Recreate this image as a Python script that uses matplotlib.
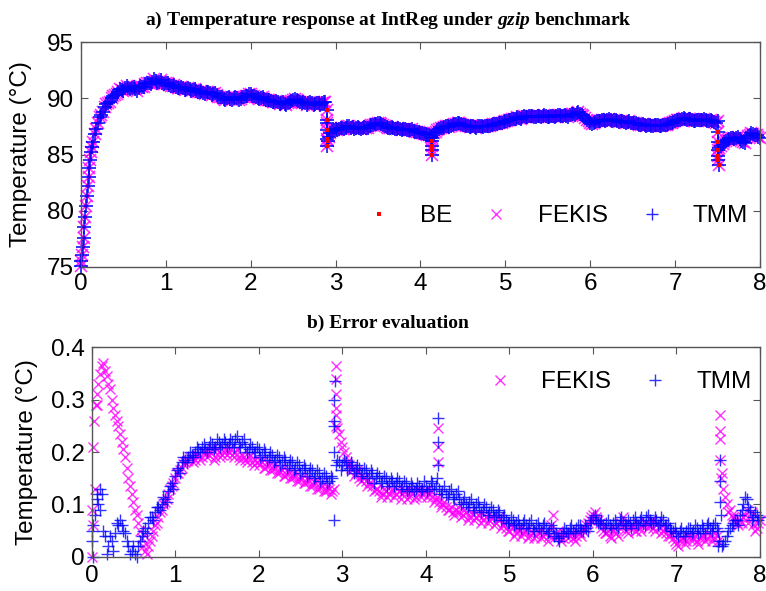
import matplotlib
matplotlib.use('Agg')
import matplotlib.pyplot as plt
import numpy as np

# datos ---------------------------
# malla de tiempo (paso 0.04) y malla intermedia (desplazada 0.02)
t = np.arange(201) * 0.04
t_mid = np.arange(200) * 0.04 + 0.02

# a) temperatura en IntReg (BE, FEKIS y TMM se solapan a esta escala)
temp = [
    75.1, 78.5, 82.2, 85.2, 86.8, 87.8, 88.5, 89.2, 89.6, 90.0,
    90.3, 90.6, 90.75, 90.9, 90.95, 90.9, 90.85, 90.9, 91.05, 91.25,
    91.4, 91.5, 91.55, 91.5, 91.4, 91.35, 91.2, 91.1, 91.0, 90.95,
    90.9, 90.85, 90.8, 90.75, 90.7, 90.6, 90.5, 90.55, 90.45, 90.35,
    90.3, 90.1, 89.95, 90.0, 89.95, 90.0, 90.05, 89.95, 90.1, 90.25,
    90.35, 90.2, 90.05, 90.0, 89.95, 89.85, 89.75, 89.7, 89.65, 89.55,
    89.5, 89.55, 89.75, 89.95, 89.8, 89.6, 89.55, 89.55, 89.6, 89.5,
    89.55, 89.6, 89.7, 86.6, 87.1, 87.25, 87.3, 87.35, 87.4, 87.5,
    87.45, 87.35, 87.4, 87.35, 87.35, 87.5, 87.65, 87.75, 87.8, 87.6,
    87.45, 87.35, 87.35, 87.3, 87.25, 87.25, 87.2, 87.2, 87.1, 87.0,
    86.9, 86.85, 86.7, 86.6, 86.9, 87.2, 87.35, 87.45, 87.5, 87.55,
    87.7, 87.8, 87.75, 87.6, 87.5, 87.5, 87.45, 87.5, 87.5, 87.5,
    87.55, 87.6, 87.7, 87.8, 87.85, 87.95, 88.05, 88.15, 88.2, 88.25,
    88.3, 88.35, 88.4, 88.4, 88.35, 88.4, 88.45, 88.4, 88.35, 88.4,
    88.45, 88.5, 88.45, 88.4, 88.5, 88.6, 88.7, 88.65, 88.4, 88.1,
    87.85, 87.8, 87.95, 88.0, 88.05, 88.1, 88.1, 88.05, 88.0, 87.95,
    87.9, 87.9, 87.85, 87.8, 87.7, 87.65, 87.6, 87.6, 87.55, 87.6,
    87.6, 87.55, 87.6, 87.7, 87.85, 87.95, 88.05, 88.15, 88.2, 88.15,
    88.05, 88.0, 88.1, 88.1, 88.05, 88.0, 87.95, 87.85, 85.6, 85.9,
    86.2, 86.35, 86.45, 86.5, 86.4, 86.15, 86.5, 86.75, 86.85, 86.7,
    86.5]

temp_mid = [
    76.8, 80.4, 83.8, 86.1, 87.3, 88.3, 88.8, 89.5, 89.7, 90.2,
    90.4, 90.8, 90.7, 91.1, 90.8, 91.0, 90.7, 91.1, 91.0, 91.4,
    91.3, 91.7, 91.4, 91.6, 91.3, 91.4, 91.1, 91.2, 90.9, 91.0,
    90.75, 90.9, 90.7, 90.85, 90.55, 90.7, 90.4, 90.6, 90.3, 90.45,
    90.15, 90.1, 89.85, 90.1, 89.85, 90.1, 89.9, 90.1, 90.2, 90.4,
    90.25, 90.15, 89.95, 90.1, 89.85, 89.9, 89.65, 89.8, 89.5, 89.65,
    89.45, 89.65, 89.85, 89.9, 89.7, 89.7, 89.45, 89.65, 89.45, 89.6,
    89.45, 89.7, 87.8, 86.9, 87.2, 87.2, 87.4, 87.3, 87.5, 87.4,
    87.3, 87.45, 87.3, 87.45, 87.4, 87.6, 87.7, 87.85, 87.7, 87.5,
    87.4, 87.45, 87.3, 87.35, 87.2, 87.3, 87.15, 87.25, 87.0, 87.05,
    86.95, 86.8, 86.75, 86.5, 87.05, 87.3, 87.4, 87.55, 87.45, 87.65,
    87.75, 87.85, 87.65, 87.55, 87.45, 87.55, 87.4, 87.55, 87.45, 87.55,
    87.5, 87.7, 87.75, 87.85, 87.9, 88.0, 88.1, 88.2, 88.3, 88.2,
    88.4, 88.3, 88.45, 88.35, 88.45, 88.35, 88.5, 88.3, 88.45, 88.35,
    88.55, 88.4, 88.5, 88.35, 88.6, 88.55, 88.75, 88.55, 88.25, 87.95,
    87.75, 87.9, 88.0, 88.1, 88.0, 88.15, 88.0, 88.1, 87.9, 88.0,
    87.85, 87.95, 87.8, 87.85, 87.65, 87.7, 87.55, 87.65, 87.5, 87.65,
    87.5, 87.65, 87.65, 87.8, 87.9, 88.05, 88.1, 88.25, 88.1, 88.2,
    87.95, 88.1, 88.05, 88.15, 87.95, 88.05, 87.9, 87.95, 85.8, 86.1,
    86.3, 86.5, 86.35, 86.55, 86.2, 86.0, 86.65, 86.9, 86.75, 86.55]

# muestras extra en los transitorios rapidos
fine_t = [0.0, 0.01, 0.03, 0.05, 0.07, 0.09, 0.11, 0.13,
          2.90, 2.90, 2.90, 2.90, 2.90, 2.91,
          4.14, 4.14, 4.14, 4.14,
          7.51, 7.51, 7.51, 7.51, 7.51, 7.52]
fine_temp = [75.5, 76.0, 77.6, 79.4, 81.3, 83.0, 84.5, 85.7,
             89.0, 88.1, 87.2, 86.4, 85.8, 86.2,
             86.2, 85.8, 85.4, 85.0,
             87.0, 86.1, 85.4, 84.9, 84.5, 84.1]

# b) error absoluto respecto a BE
fekis_err = [
    0.0, 0.13, 0.33, 0.365, 0.355, 0.33, 0.30, 0.27, 0.25, 0.22,
    0.19, 0.15, 0.12, 0.09, 0.065, 0.035, 0.01, 0.02, 0.04, 0.06,
    0.075, 0.09, 0.105, 0.12, 0.135, 0.15, 0.16, 0.17, 0.18, 0.185,
    0.19, 0.185, 0.195, 0.19, 0.2, 0.195, 0.205, 0.19, 0.2, 0.195,
    0.205, 0.2, 0.195, 0.2, 0.19, 0.195, 0.185, 0.19, 0.18, 0.185,
    0.175, 0.18, 0.17, 0.175, 0.165, 0.17, 0.16, 0.165, 0.155, 0.16,
    0.15, 0.155, 0.145, 0.15, 0.14, 0.145, 0.135, 0.14, 0.13, 0.135,
    0.125, 0.13, 0.125, 0.25, 0.235, 0.21, 0.19, 0.175, 0.165, 0.16,
    0.15, 0.155, 0.145, 0.14, 0.135, 0.13, 0.125, 0.12, 0.125, 0.12,
    0.13, 0.12, 0.125, 0.12, 0.125, 0.115, 0.12, 0.115, 0.125, 0.12,
    0.125, 0.12, 0.115, 0.11, 0.105, 0.1, 0.095, 0.09, 0.085, 0.09,
    0.085, 0.08, 0.085, 0.075, 0.08, 0.075, 0.08, 0.07, 0.075, 0.07,
    0.075, 0.065, 0.07, 0.06, 0.055, 0.05, 0.055, 0.045, 0.05, 0.045,
    0.05, 0.04, 0.045, 0.04, 0.045, 0.04, 0.045, 0.04, 0.08, 0.045,
    0.04, 0.035, 0.045, 0.04, 0.035, 0.04, 0.045, 0.05, 0.06, 0.07,
    0.08, 0.075, 0.065, 0.05, 0.045, 0.04, 0.05, 0.045, 0.055, 0.075,
    0.05, 0.055, 0.06, 0.05, 0.055, 0.06, 0.065, 0.06, 0.055, 0.06,
    0.055, 0.05, 0.045, 0.04, 0.035, 0.025, 0.03, 0.035, 0.03, 0.04,
    0.035, 0.03, 0.035, 0.04, 0.035, 0.04, 0.035, 0.04, 0.185, 0.13,
    0.1, 0.09, 0.075, 0.065, 0.07, 0.075, 0.09, 0.075, 0.06, 0.055,
    0.07]

fekis_mid = [
    0.06, 0.29, 0.35, 0.37, 0.345, 0.32, 0.285, 0.26, 0.235, 0.205,
    0.17, 0.135, 0.105, 0.08, 0.05, 0.02, 0.005, 0.03, 0.05, 0.065,
    0.085, 0.1, 0.11, 0.13, 0.14, 0.16, 0.165, 0.178, 0.182, 0.19,
    0.18, 0.195, 0.185, 0.2, 0.19, 0.2, 0.185, 0.205, 0.19, 0.2,
    0.195, 0.205, 0.19, 0.205, 0.185, 0.19, 0.18, 0.195, 0.175, 0.18,
    0.185, 0.17, 0.18, 0.165, 0.175, 0.16, 0.17, 0.155, 0.165, 0.15,
    0.16, 0.145, 0.155, 0.14, 0.15, 0.135, 0.145, 0.13, 0.14, 0.125,
    0.135, 0.12, 0.13, 0.245, 0.22, 0.2, 0.18, 0.17, 0.155, 0.165,
    0.145, 0.15, 0.135, 0.14, 0.125, 0.13, 0.115, 0.13, 0.115, 0.125,
    0.115, 0.13, 0.11, 0.125, 0.11, 0.125, 0.11, 0.13, 0.115, 0.125,
    0.115, 0.125, 0.105, 0.115, 0.095, 0.105, 0.09, 0.095, 0.08, 0.095,
    0.075, 0.09, 0.07, 0.085, 0.07, 0.08, 0.065, 0.08, 0.065, 0.075,
    0.06, 0.075, 0.055, 0.065, 0.05, 0.06, 0.04, 0.055, 0.04, 0.05,
    0.035, 0.05, 0.035, 0.05, 0.035, 0.045, 0.03, 0.06, 0.035, 0.05,
    0.03, 0.045, 0.035, 0.045, 0.03, 0.05, 0.04, 0.055, 0.065, 0.075,
    0.085, 0.07, 0.055, 0.045, 0.05, 0.035, 0.055, 0.04, 0.065, 0.06,
    0.045, 0.06, 0.05, 0.065, 0.05, 0.065, 0.055, 0.07, 0.05, 0.065,
    0.045, 0.055, 0.04, 0.045, 0.03, 0.02, 0.035, 0.025, 0.04, 0.03,
    0.04, 0.025, 0.04, 0.03, 0.045, 0.03, 0.045, 0.03, 0.16, 0.115,
    0.085, 0.08, 0.07, 0.06, 0.065, 0.08, 0.065, 0.085, 0.05, 0.065]

tmm_err = [
    0.05, 0.08, 0.1, 0.12, 0.04, 0.02, 0.03, 0.045, 0.06, 0.06,
    0.045, 0.02, 0.01, 0.005, 0.02, 0.04, 0.055, 0.065, 0.075, 0.085,
    0.095, 0.1, 0.11, 0.125, 0.14, 0.155, 0.17, 0.18, 0.185, 0.19,
    0.195, 0.2, 0.205, 0.21, 0.205, 0.21, 0.215, 0.21, 0.22, 0.215,
    0.22, 0.215, 0.22, 0.225, 0.215, 0.22, 0.21, 0.205, 0.21, 0.2,
    0.205, 0.195, 0.2, 0.19, 0.195, 0.185, 0.19, 0.18, 0.185, 0.175,
    0.18, 0.17, 0.175, 0.165, 0.17, 0.16, 0.165, 0.155, 0.16, 0.15,
    0.155, 0.145, 0.15, 0.175, 0.18, 0.175, 0.18, 0.17, 0.175, 0.165,
    0.17, 0.16, 0.165, 0.155, 0.16, 0.15, 0.155, 0.145, 0.15, 0.14,
    0.145, 0.14, 0.145, 0.135, 0.14, 0.13, 0.135, 0.13, 0.135, 0.13,
    0.135, 0.13, 0.14, 0.135, 0.13, 0.125, 0.12, 0.125, 0.115, 0.12,
    0.11, 0.105, 0.1, 0.105, 0.095, 0.1, 0.095, 0.09, 0.095, 0.085,
    0.09, 0.08, 0.085, 0.075, 0.07, 0.065, 0.07, 0.065, 0.06, 0.065,
    0.06, 0.065, 0.055, 0.06, 0.055, 0.06, 0.055, 0.05, 0.055, 0.045,
    0.03, 0.045, 0.05, 0.055, 0.05, 0.055, 0.06, 0.05, 0.055, 0.065,
    0.075, 0.07, 0.065, 0.06, 0.065, 0.06, 0.065, 0.06, 0.07, 0.065,
    0.06, 0.065, 0.07, 0.065, 0.07, 0.065, 0.075, 0.07, 0.065, 0.07,
    0.065, 0.07, 0.06, 0.055, 0.05, 0.045, 0.05, 0.045, 0.05, 0.055,
    0.05, 0.055, 0.05, 0.055, 0.06, 0.055, 0.06, 0.055, 0.105, 0.025,
    0.04, 0.055, 0.065, 0.07, 0.08, 0.1, 0.11, 0.09, 0.075, 0.08,
    0.075]

tmm_mid = [
    0.0, 0.12, 0.09, 0.05, 0.005, 0.04, 0.01, 0.065, 0.07, 0.05,
    0.03, 0.005, 0.02, 0.0, 0.03, 0.05, 0.045, 0.075, 0.07, 0.095,
    0.09, 0.115, 0.105, 0.135, 0.13, 0.165, 0.16, 0.19, 0.18, 0.2,
    0.19, 0.21, 0.2, 0.215, 0.2, 0.22, 0.205, 0.225, 0.21, 0.225,
    0.21, 0.225, 0.21, 0.23, 0.21, 0.225, 0.2, 0.215, 0.2, 0.21,
    0.19, 0.205, 0.185, 0.2, 0.18, 0.195, 0.175, 0.19, 0.17, 0.185,
    0.165, 0.18, 0.16, 0.175, 0.155, 0.17, 0.15, 0.165, 0.145, 0.16,
    0.14, 0.155, 0.25, 0.185, 0.165, 0.185, 0.165, 0.18, 0.16, 0.175,
    0.155, 0.17, 0.15, 0.165, 0.14, 0.16, 0.14, 0.155, 0.135, 0.15,
    0.135, 0.15, 0.13, 0.145, 0.125, 0.14, 0.125, 0.14, 0.125, 0.145,
    0.125, 0.145, 0.13, 0.15, 0.12, 0.135, 0.115, 0.13, 0.11, 0.125,
    0.1, 0.115, 0.095, 0.11, 0.09, 0.105, 0.085, 0.1, 0.08, 0.095,
    0.075, 0.09, 0.07, 0.08, 0.065, 0.075, 0.06, 0.07, 0.055, 0.07,
    0.055, 0.07, 0.05, 0.065, 0.05, 0.065, 0.045, 0.06, 0.04, 0.035,
    0.04, 0.055, 0.045, 0.06, 0.045, 0.06, 0.05, 0.06, 0.05, 0.07,
    0.08, 0.065, 0.07, 0.055, 0.07, 0.055, 0.07, 0.055, 0.075, 0.06,
    0.07, 0.055, 0.075, 0.06, 0.075, 0.06, 0.08, 0.065, 0.075, 0.06,
    0.075, 0.06, 0.065, 0.05, 0.055, 0.04, 0.055, 0.04, 0.055, 0.045,
    0.06, 0.045, 0.06, 0.045, 0.065, 0.05, 0.065, 0.05, 0.02, 0.03,
    0.05, 0.06, 0.07, 0.06, 0.09, 0.115, 0.095, 0.07, 0.085, 0.07]

# picos de error en los transitorios
fekis_t_extra = [0.01, 0.02, 0.03, 0.05, 0.06, 2.92, 2.92, 2.92, 2.92, 2.93,
                 4.15, 4.15, 4.15, 7.52, 7.52, 7.52, 7.53]
fekis_extra = [0.09, 0.21, 0.26, 0.29, 0.31, 0.365, 0.34, 0.31, 0.285, 0.27,
               0.245, 0.21, 0.18, 0.27, 0.24, 0.225, 0.15]
tmm_t_extra = [0.01, 0.02, 0.06, 0.10, 2.90, 2.90, 2.90, 2.90, 2.91,
               4.15, 4.15, 4.15, 7.50, 7.51, 7.52, 7.52, 7.53]
tmm_extra = [0.03, 0.06, 0.11, 0.13, 0.07, 0.2, 0.26, 0.3, 0.335,
             0.265, 0.22, 0.175, 0.02, 0.03, 0.185, 0.145, 0.08]

x_ticks = [0, 1, 2, 3, 4, 5, 6, 7, 8]
y1_ticks = [75, 80, 85, 90, 95]
y2_ticks = [0, 0.1, 0.2, 0.3, 0.4]
y2_labels = ['0', '0.1', '0.2', '0.3', '0.4']

# figura -------
plt.rcParams['font.family'] = 'Liberation Sans'
plt.rcParams['mathtext.fontset'] = 'custom'
plt.rcParams['mathtext.it'] = 'Liberation Serif:italic:bold'

fig = plt.figure(figsize=(7.66, 5.91), dpi=100)
ax1 = fig.add_axes([0.1057, 0.5487, 0.8864, 0.3797])
ax2 = fig.add_axes([0.1195, 0.0580, 0.8727, 0.3543])

t_all = np.concatenate([t, t_mid, fine_t])
temp_all = np.concatenate([temp, temp_mid, fine_temp])

be_kw = dict(linestyle='none', marker='s', color='red', ms=2.2, mew=0, clip_on=False)
fekis_kw = dict(linestyle='none', marker='x', color='magenta', ms=7, mew=1.0,
                alpha=0.8, clip_on=False)
tmm_kw = dict(linestyle='none', marker='+', color='blue', ms=9, mew=1.0,
              alpha=0.8, clip_on=False)

# en a) las marcas van algo mas gruesas para formar la banda
ax1.plot(t_all, temp_all, label='BE', **be_kw)
ax1.plot(t_all, temp_all, label='FEKIS', **dict(fekis_kw, ms=8, mew=1.2))
ax1.plot(t_all, temp_all, label='TMM', **dict(tmm_kw, ms=10, mew=1.3, alpha=0.85))
ax1.plot(fine_t[8:], fine_temp[8:], **be_kw)

ax2.plot(np.concatenate([t, t_mid, fekis_t_extra]),
         np.concatenate([fekis_err, fekis_mid, fekis_extra]),
         label='FEKIS', **fekis_kw)
ax2.plot(np.concatenate([t, t_mid, tmm_t_extra]),
         np.concatenate([tmm_err, tmm_mid, tmm_extra]),
         label='TMM', **tmm_kw)

ax1.set_xlim(0, 8)
ax1.set_ylim(75, 95)
ax1.set_yticks(y1_ticks)
ax2.set_xlim(0, 8)
ax2.set_ylim(0, 0.4)
ax2.set_yticks(y2_ticks)
ax2.set_yticklabels(y2_labels)

for ax in (ax1, ax2):
    ax.set_xticks(x_ticks)
    ax.tick_params(direction='in', top=True, right=True, length=5,
                   labelsize=17.5, color='#555555')
    ax.tick_params(axis='y', pad=5)
    for s in ax.spines.values():
        s.set_color('#555555')
        s.set_linewidth(1.0)
        s.set_zorder(3)
    ax.set_ylabel('Temperature (\u00b0C)', fontsize=17.5)

ax1.tick_params(axis='x', pad=4.6)
ax2.tick_params(axis='x', pad=6.3)
ax1.yaxis.set_label_coords(-0.072, 0.5)
ax2.yaxis.set_label_coords(-0.080, 0.5)

# leyendas con las marcas de tamano normal
leg1 = ax1.legend(ncol=3, frameon=False, fontsize=17.5, loc='center',
                  bbox_to_anchor=(0.693, 0.226), handlelength=2, handletextpad=0.7,
                  columnspacing=0.8)
for h in leg1.legend_handles[1:]:
    h.set_markersize(7 if h.get_marker() == 'x' else 9)
    h.set_markeredgewidth(1.0)
ax2.legend(ncol=2, frameon=False, fontsize=17.5, loc='center',
           bbox_to_anchor=(0.781, 0.834), handlelength=2, handletextpad=0.7,
           columnspacing=0.8)

fig.text(0.5065, 0.966, r'a) Temperature response at IntReg under $\mathit{gzip}$ benchmark',
         ha='center', va='center', family='Liberation Serif', fontweight='bold', fontsize=14)
fig.text(0.5065, 0.4526, 'b) Error evaluation',
         ha='center', va='center', family='Liberation Serif', fontweight='bold', fontsize=14)

fig.savefig('out.png', dpi=100)
